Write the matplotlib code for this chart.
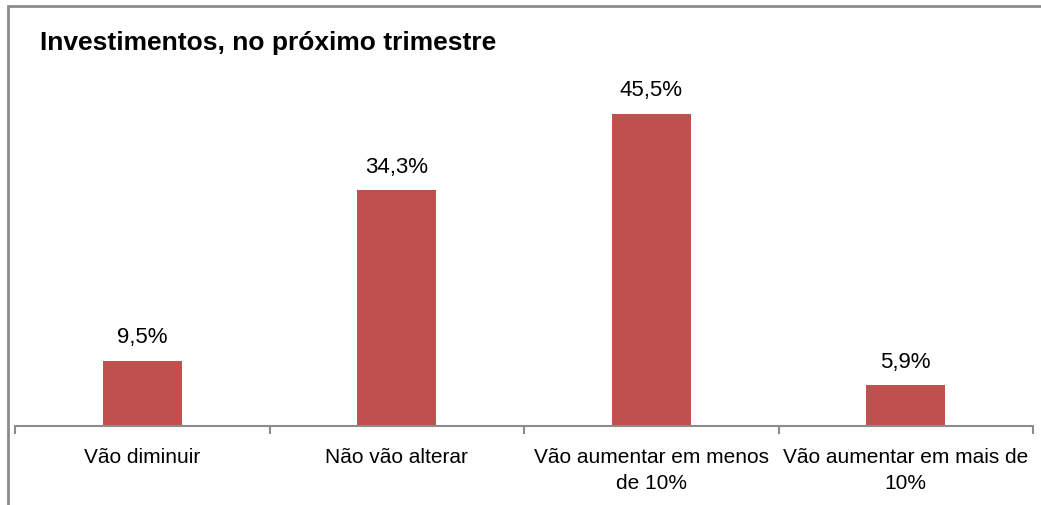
"""Investimentos, no próximo trimestre - gráfico de barras"""

import matplotlib
matplotlib.use("Agg")
import matplotlib.pyplot as plt
from matplotlib.patches import Rectangle

categorias = ["Vão diminuir", "Não vão alterar",
              "Vão aumentar em menos\nde 10%", "Vão aumentar em mais de\n10%"]
valores = [9.5, 34.3, 45.5, 5.9]
rotulos = ["9,5%", "34,3%", "45,5%", "5,9%"]
titulo = "Investimentos, no próximo trimestre"

plt.rcParams["font.family"] = ["Liberation Sans", "DejaVu Sans"]

W, H = 1041, 505
fig = plt.figure(figsize=(W / 100, H / 100), dpi=100)

# moldura (so o topo e a esquerda aparecem)
fig.patches.append(Rectangle((7.5 / W, -0.2), 1.2, 1 - 6 / H + 0.2, transform=fig.transFigure,
                             fill=False, edgecolor="#8c8c8c", linewidth=2))

axe = fig.add_axes([15 / W, 79.3 / H, 1018 / W, 343 / H])
pos = range(len(categorias))
axe.bar(pos, valores, width=0.31, color="#C0504D")
axe.set_xlim(-0.5, len(categorias) - 0.5)
axe.set_ylim(0, 50)

for x, v, r in zip(pos, valores, rotulos):
    axe.annotate(r, (x, v), xytext=(0, 9), textcoords="offset points",
                 ha="center", va="bottom", fontsize=16)

for s in ["top", "right", "left"]:
    axe.spines[s].set_visible(False)
axe.spines["bottom"].set_color("#8c8c8c")
axe.spines["bottom"].set_linewidth(1.5)
axe.set_yticks([])

axe.set_xticks([p - 0.5 for p in range(len(categorias) + 1)], minor=False)
axe.set_xticklabels([])
axe.tick_params(axis="x", which="major", length=6, width=1.5, color="#8c8c8c")
axe.set_xticks(list(pos), minor=True)
axe.set_xticklabels(categorias, minor=True, fontsize=15, linespacing=1.45)
axe.tick_params(axis="x", which="minor", length=0, pad=16)

fig.text(40 / W, 1 - 50 / H, titulo, fontsize=19, fontweight="bold", va="baseline")

fig.savefig("out.png", dpi=100)
